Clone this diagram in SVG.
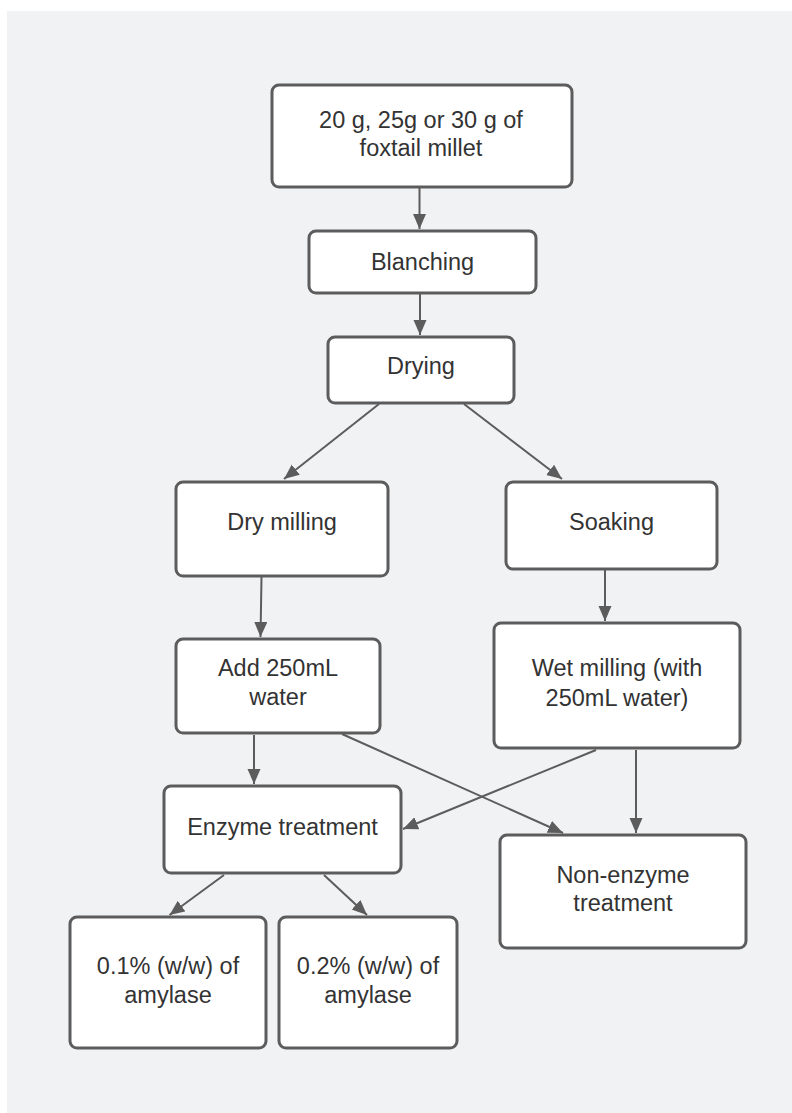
<svg xmlns="http://www.w3.org/2000/svg" width="792" height="1113" viewBox="0 0 792 1113">
<defs>
<style>
.box{fill:#ffffff;stroke:#5c5c5c;stroke-width:3}
.lbl{font-family:"Liberation Sans",Arial,sans-serif;font-size:23.5px;fill:#333333;text-anchor:middle}
.conn{fill:none;stroke:#5c5c5c;stroke-width:2;marker-end:url(#arr)}
</style>
<marker id="arr" markerUnits="userSpaceOnUse" markerWidth="16" markerHeight="14" refX="15" refY="6.5" orient="auto">
<path d="M0,0 L15,6.5 L0,13 z" fill="#5c5c5c"/>
</marker>
</defs>
<rect x="0" y="0" width="792" height="1113" fill="#ffffff"/>
<rect x="7" y="11" width="785" height="1102" fill="#f1f2f4"/>

<g id="connectors">
<line class="conn" x1="419.5" y1="188" x2="419.5" y2="229"/>
<line class="conn" x1="420" y1="294" x2="420" y2="335"/>
<line class="conn" x1="379" y1="404" x2="284" y2="479"/>
<line class="conn" x1="464" y1="404" x2="562" y2="479"/>
<line class="conn" x1="261.5" y1="577" x2="260.5" y2="637"/>
<line class="conn" x1="605" y1="570" x2="605" y2="621"/>
<line class="conn" x1="254" y1="735" x2="254" y2="784"/>
<line class="conn" x1="342" y1="734" x2="563" y2="833"/>
<line class="conn" x1="596" y1="750" x2="403" y2="829"/>
<line class="conn" x1="636" y1="750" x2="636" y2="833"/>
<line class="conn" x1="224" y1="875" x2="169.5" y2="915"/>
<line class="conn" x1="324" y1="875" x2="367" y2="915"/>
</g>

<g id="node-millet">
<rect class="box" x="272" y="85" width="300" height="102" rx="7"/>
<text class="lbl" x="421" y="128">20 g, 25g or 30 g of</text>
<text class="lbl" x="421" y="156">foxtail millet</text>
</g>
<g id="node-blanching">
<rect class="box" x="309" y="231" width="227" height="62" rx="7"/>
<text class="lbl" x="422.5" y="270">Blanching</text>
</g>
<g id="node-drying">
<rect class="box" x="328" y="337" width="186" height="66" rx="7"/>
<text class="lbl" x="421" y="374">Drying</text>
</g>
<g id="node-drymilling">
<rect class="box" x="176" y="482" width="212" height="94" rx="7"/>
<text class="lbl" x="282" y="530">Dry milling</text>
</g>
<g id="node-soaking">
<rect class="box" x="506" y="482" width="211" height="87" rx="7"/>
<text class="lbl" x="611.5" y="530">Soaking</text>
</g>
<g id="node-addwater">
<rect class="box" x="176" y="639" width="204" height="94" rx="7"/>
<text class="lbl" x="278" y="676">Add 250mL</text>
<text class="lbl" x="278" y="705">water</text>
</g>
<g id="node-wetmilling">
<rect class="box" x="494" y="623" width="246" height="125" rx="7"/>
<text class="lbl" x="617" y="676">Wet milling (with</text>
<text class="lbl" x="617" y="706">250mL water)</text>
</g>
<g id="node-enzyme">
<rect class="box" x="164" y="786" width="237" height="87" rx="7"/>
<text class="lbl" x="282.5" y="835">Enzyme treatment</text>
</g>
<g id="node-nonenzyme">
<rect class="box" x="500" y="835" width="246" height="113" rx="7"/>
<text class="lbl" x="623" y="883">Non-enzyme</text>
<text class="lbl" x="623" y="911">treatment</text>
</g>
<g id="node-amylase01">
<rect class="box" x="70" y="917" width="196" height="131" rx="7"/>
<text class="lbl" x="168" y="974">0.1% (w/w) of</text>
<text class="lbl" x="168" y="1003">amylase</text>
</g>
<g id="node-amylase02">
<rect class="box" x="279" y="917" width="178" height="131" rx="7"/>
<text class="lbl" x="368" y="974">0.2% (w/w) of</text>
<text class="lbl" x="368" y="1003">amylase</text>
</g>
</svg>
